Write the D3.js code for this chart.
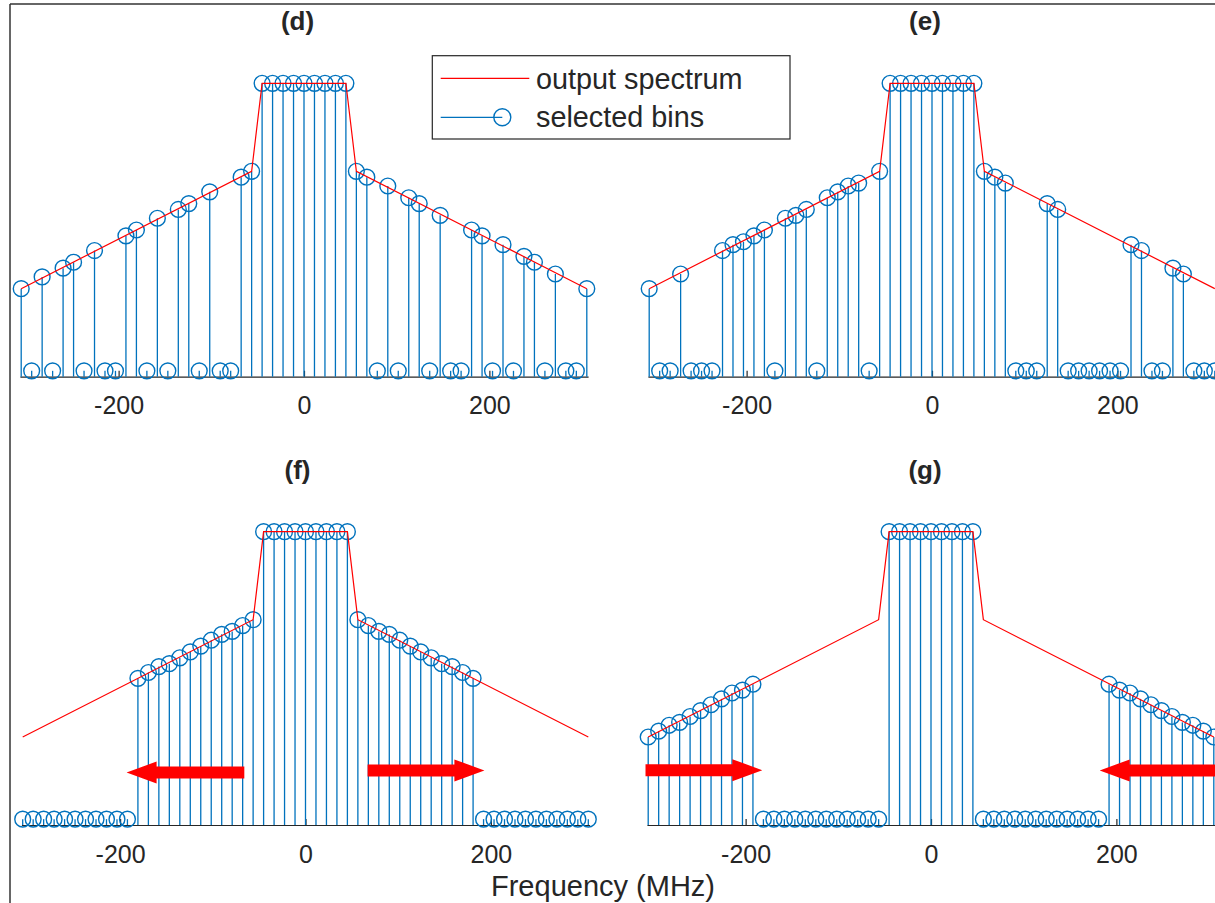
<!DOCTYPE html>
<html>
<head>
<meta charset="utf-8">
<script src="https://cdn.jsdelivr.net/npm/d3@7"></script>
<style>
  html, body { margin: 0; padding: 0; background: #fff; }
  svg { display: block; }
  text { font-family: "Liberation Sans", Arial, Helvetica, sans-serif; fill: #262626; }
</style>
</head>
<body>
<svg id="chart" width="1215" height="903"></svg>
<script>
// ---------------- data ----------------
const binFreq = [-305.1,-293.8,-282.5,-271.2,-259.9,-248.6,-237.3,-226.0,-214.7,-203.4,-192.1,-180.8,-169.5,-158.2,-146.9,-135.6,-124.3,-113.0,-101.7,-90.4,-79.1,-67.8,-56.5,
  -45.2,-33.9,-22.6,-11.3,0,11.3,22.6,33.9,45.2,
  56.5,67.8,79.1,90.4,101.7,113.0,124.3,135.6,146.9,158.2,169.5,180.8,192.1,203.4,214.7,226.0,237.3,248.6,259.9,271.2,282.5,293.8,305.1];
const binNumber = [-27,-26,-25,-24,-23,-22,-21,-20,-19,-18,-17,-16,-15,-14,-13,-12,-11,-10,-9,-8,-7,-6,-5,
  -4,-3,-2,-1,0,1,2,3,4,
  5,6,7,8,9,10,11,12,13,14,15,16,17,18,19,20,21,22,23,24,25,26,27];
const binLevel = [0.30,0.32,0.34,0.35,0.37,0.39,0.41,0.43,0.45,0.46,0.48,0.50,0.52,0.54,0.55,0.57,0.59,0.61,0.63,0.65,0.66,0.68,0.70,
  1.00,1.00,1.00,1.00,1.00,1.00,1.00,1.00,1.00,
  0.70,0.68,0.66,0.65,0.63,0.61,0.59,0.57,0.55,0.54,0.52,0.50,0.48,0.46,0.45,0.43,0.41,0.39,0.37,0.35,0.34,0.32,0.30];
const offLevel = 0.02;

const specFreq  = [-305.1, -56.5, -45.2, 45.2, 56.5, 305.1];
const specLevel = [0.30, 0.70, 1.00, 1.00, 0.70, 0.30];

const selectedD = [-27,-25,-23,-22,-20,-17,-16,-14,-12,-11,-9,-6,-5,
  -4,-3,-2,-1,0,1,2,3,4,
  5,6,8,10,11,13,16,17,19,21,22,24,27];
const selectedE = [-27,-24,-20,-19,-18,-17,-16,-14,-13,-12,-10,-9,-8,-7,-5,
  -4,-3,-2,-1,0,1,2,3,4,
  5,6,7,11,12,19,20,23,24];
const selectedF = [-16,-15,-14,-13,-12,-11,-10,-9,-8,-7,-6,-5,
  -4,-3,-2,-1,0,1,2,3,4,
  5,6,7,8,9,10,11,12,13,14,15,16];
const selectedG = [-27,-26,-25,-24,-23,-22,-21,-20,-19,-18,-17,
  -4,-3,-2,-1,0,1,2,3,4,
  17,18,19,20,21,22,23,24,25,26,27];

// arrows: [from MHz, to MHz, level]
const arrowsF = [[-66, -193, 0.179], [67, 193, 0.186]];
const arrowsG = [[-308, -182, 0.187], [308, 182, 0.186]];

const tickValues = [-200, 0, 200];
const tickLabels = ["-200", "0", "200"];
const panelTitles = ["(d)", "(e)", "(f)", "(g)"];
const xLabel = "Frequency (MHz)";
const legendLabels = ["output spectrum", "selected bins"];

// ---------------- layout ----------------
const BLUE = "#0072BD", RED = "#FF0000", AX = "#262626";
const halfSpan = 284.1;
const panels = [
  { title: panelTitles[0], cx: 304,   baseY: 376.7, topY: 83.3,  titleX: 297.5, titleY: 30,  sel: selectedD, arrows: [] },
  { title: panelTitles[1], cx: 932,   baseY: 376.7, topY: 83.3,  titleX: 925,   titleY: 30,  sel: selectedE, arrows: [] },
  { title: panelTitles[2], cx: 305.5, baseY: 825,   topY: 531.7, titleX: 297.5, titleY: 479, sel: selectedF, arrows: arrowsF },
  { title: panelTitles[3], cx: 931,   baseY: 825,   topY: 531.7, titleX: 925,   titleY: 479, sel: selectedG, arrows: arrowsG }
];

const svg = d3.select("#chart");

// frame lines
svg.append("line").attr("x1", 10).attr("x2", 1215).attr("y1", 4).attr("y2", 4)
  .attr("stroke", "#333").attr("stroke-width", 1.5);
svg.append("line").attr("x1", 10).attr("x2", 10).attr("y1", 4).attr("y2", 903)
  .attr("stroke", "#333").attr("stroke-width", 1.5);

panels.forEach(p => {
  const x = d3.scaleLinear().domain([-306.5, 306.5]).range([p.cx - halfSpan, p.cx + halfSpan]);
  const y = d3.scaleLinear().domain([0, 1]).range([p.baseY, p.topY]);
  const g = svg.append("g");

  // axis
  const axis = d3.axisBottom(x).tickValues(tickValues)
    .tickFormat((d, i) => tickLabels[i])
    .tickSizeInner(-6).tickSizeOuter(0).tickPadding(20);
  const ax = g.append("g").attr("transform", `translate(0,${p.baseY})`).call(axis);
  ax.select(".domain").attr("stroke", AX).attr("stroke-width", 1.2);
  ax.selectAll(".tick line").attr("stroke", AX).attr("stroke-width", 1.2);
  ax.selectAll(".tick text").attr("font-size", 25).attr("fill", AX)
    .style("font-family", '"Liberation Sans", Arial, sans-serif');

  // stems
  const selSet = new Set(p.sel);
  const stems = binNumber.map((k, i) => ({ f: binFreq[i], v: selSet.has(k) ? binLevel[i] : offLevel }));
  g.selectAll(".stem").data(stems).enter().append("line")
    .attr("x1", d => x(d.f)).attr("x2", d => x(d.f))
    .attr("y1", y(0)).attr("y2", d => y(d.v))
    .attr("stroke", BLUE).attr("stroke-width", 1.3);
  g.selectAll(".mk").data(stems).enter().append("circle")
    .attr("cx", d => x(d.f)).attr("cy", d => y(d.v)).attr("r", 7.9)
    .attr("fill", "none").attr("stroke", BLUE).attr("stroke-width", 1.4);

  // spectrum line
  const line = d3.line().x(d => x(d[0])).y(d => y(d[1]));
  g.append("path").datum(specFreq.map((f, i) => [f, specLevel[i]]))
    .attr("d", line).attr("fill", "none").attr("stroke", RED).attr("stroke-width", 1.2);

  // arrows
  p.arrows.forEach(a => {
    const xt = x(a[0]), xp = x(a[1]), yc = y(a[2]);
    const dir = Math.sign(xp - xt), hb = xp - dir * 30;
    const pts = [[xt, yc - 6], [hb, yc - 6], [hb, yc - 11], [xp, yc], [hb, yc + 11], [hb, yc + 6], [xt, yc + 6]];
    g.append("polygon").attr("points", pts.map(q => q.join(",")).join(" ")).attr("fill", RED);
  });

  // title
  svg.append("text").attr("x", p.titleX).attr("y", p.titleY).attr("text-anchor", "middle")
    .attr("font-size", 26).attr("font-weight", "bold").text(p.title);
});

// x label
svg.append("text").attr("x", 603).attr("y", 896).attr("text-anchor", "middle")
  .attr("font-size", 29).text(xLabel);

// legend
const lg = svg.append("g");
lg.append("rect").attr("x", 432.3).attr("y", 55.7).attr("width", 357.7).attr("height", 83.3)
  .attr("fill", "#fff").attr("stroke", AX).attr("stroke-width", 1.2);
lg.append("line").attr("x1", 440.7).attr("x2", 529.3).attr("y1", 78.3).attr("y2", 78.3)
  .attr("stroke", RED).attr("stroke-width", 1.2);
lg.append("line").attr("x1", 440.7).attr("x2", 502.3).attr("y1", 117.3).attr("y2", 117.3)
  .attr("stroke", BLUE).attr("stroke-width", 1.2);
lg.append("circle").attr("cx", 502.3).attr("cy", 117.3).attr("r", 8.5)
  .attr("fill", "none").attr("stroke", BLUE).attr("stroke-width", 1.4);
lg.append("text").attr("x", 536).attr("y", 88.5).attr("font-size", 28.8).text(legendLabels[0]);
lg.append("text").attr("x", 536).attr("y", 127).attr("font-size", 28.8).text(legendLabels[1]);
</script>
</body>
</html>
